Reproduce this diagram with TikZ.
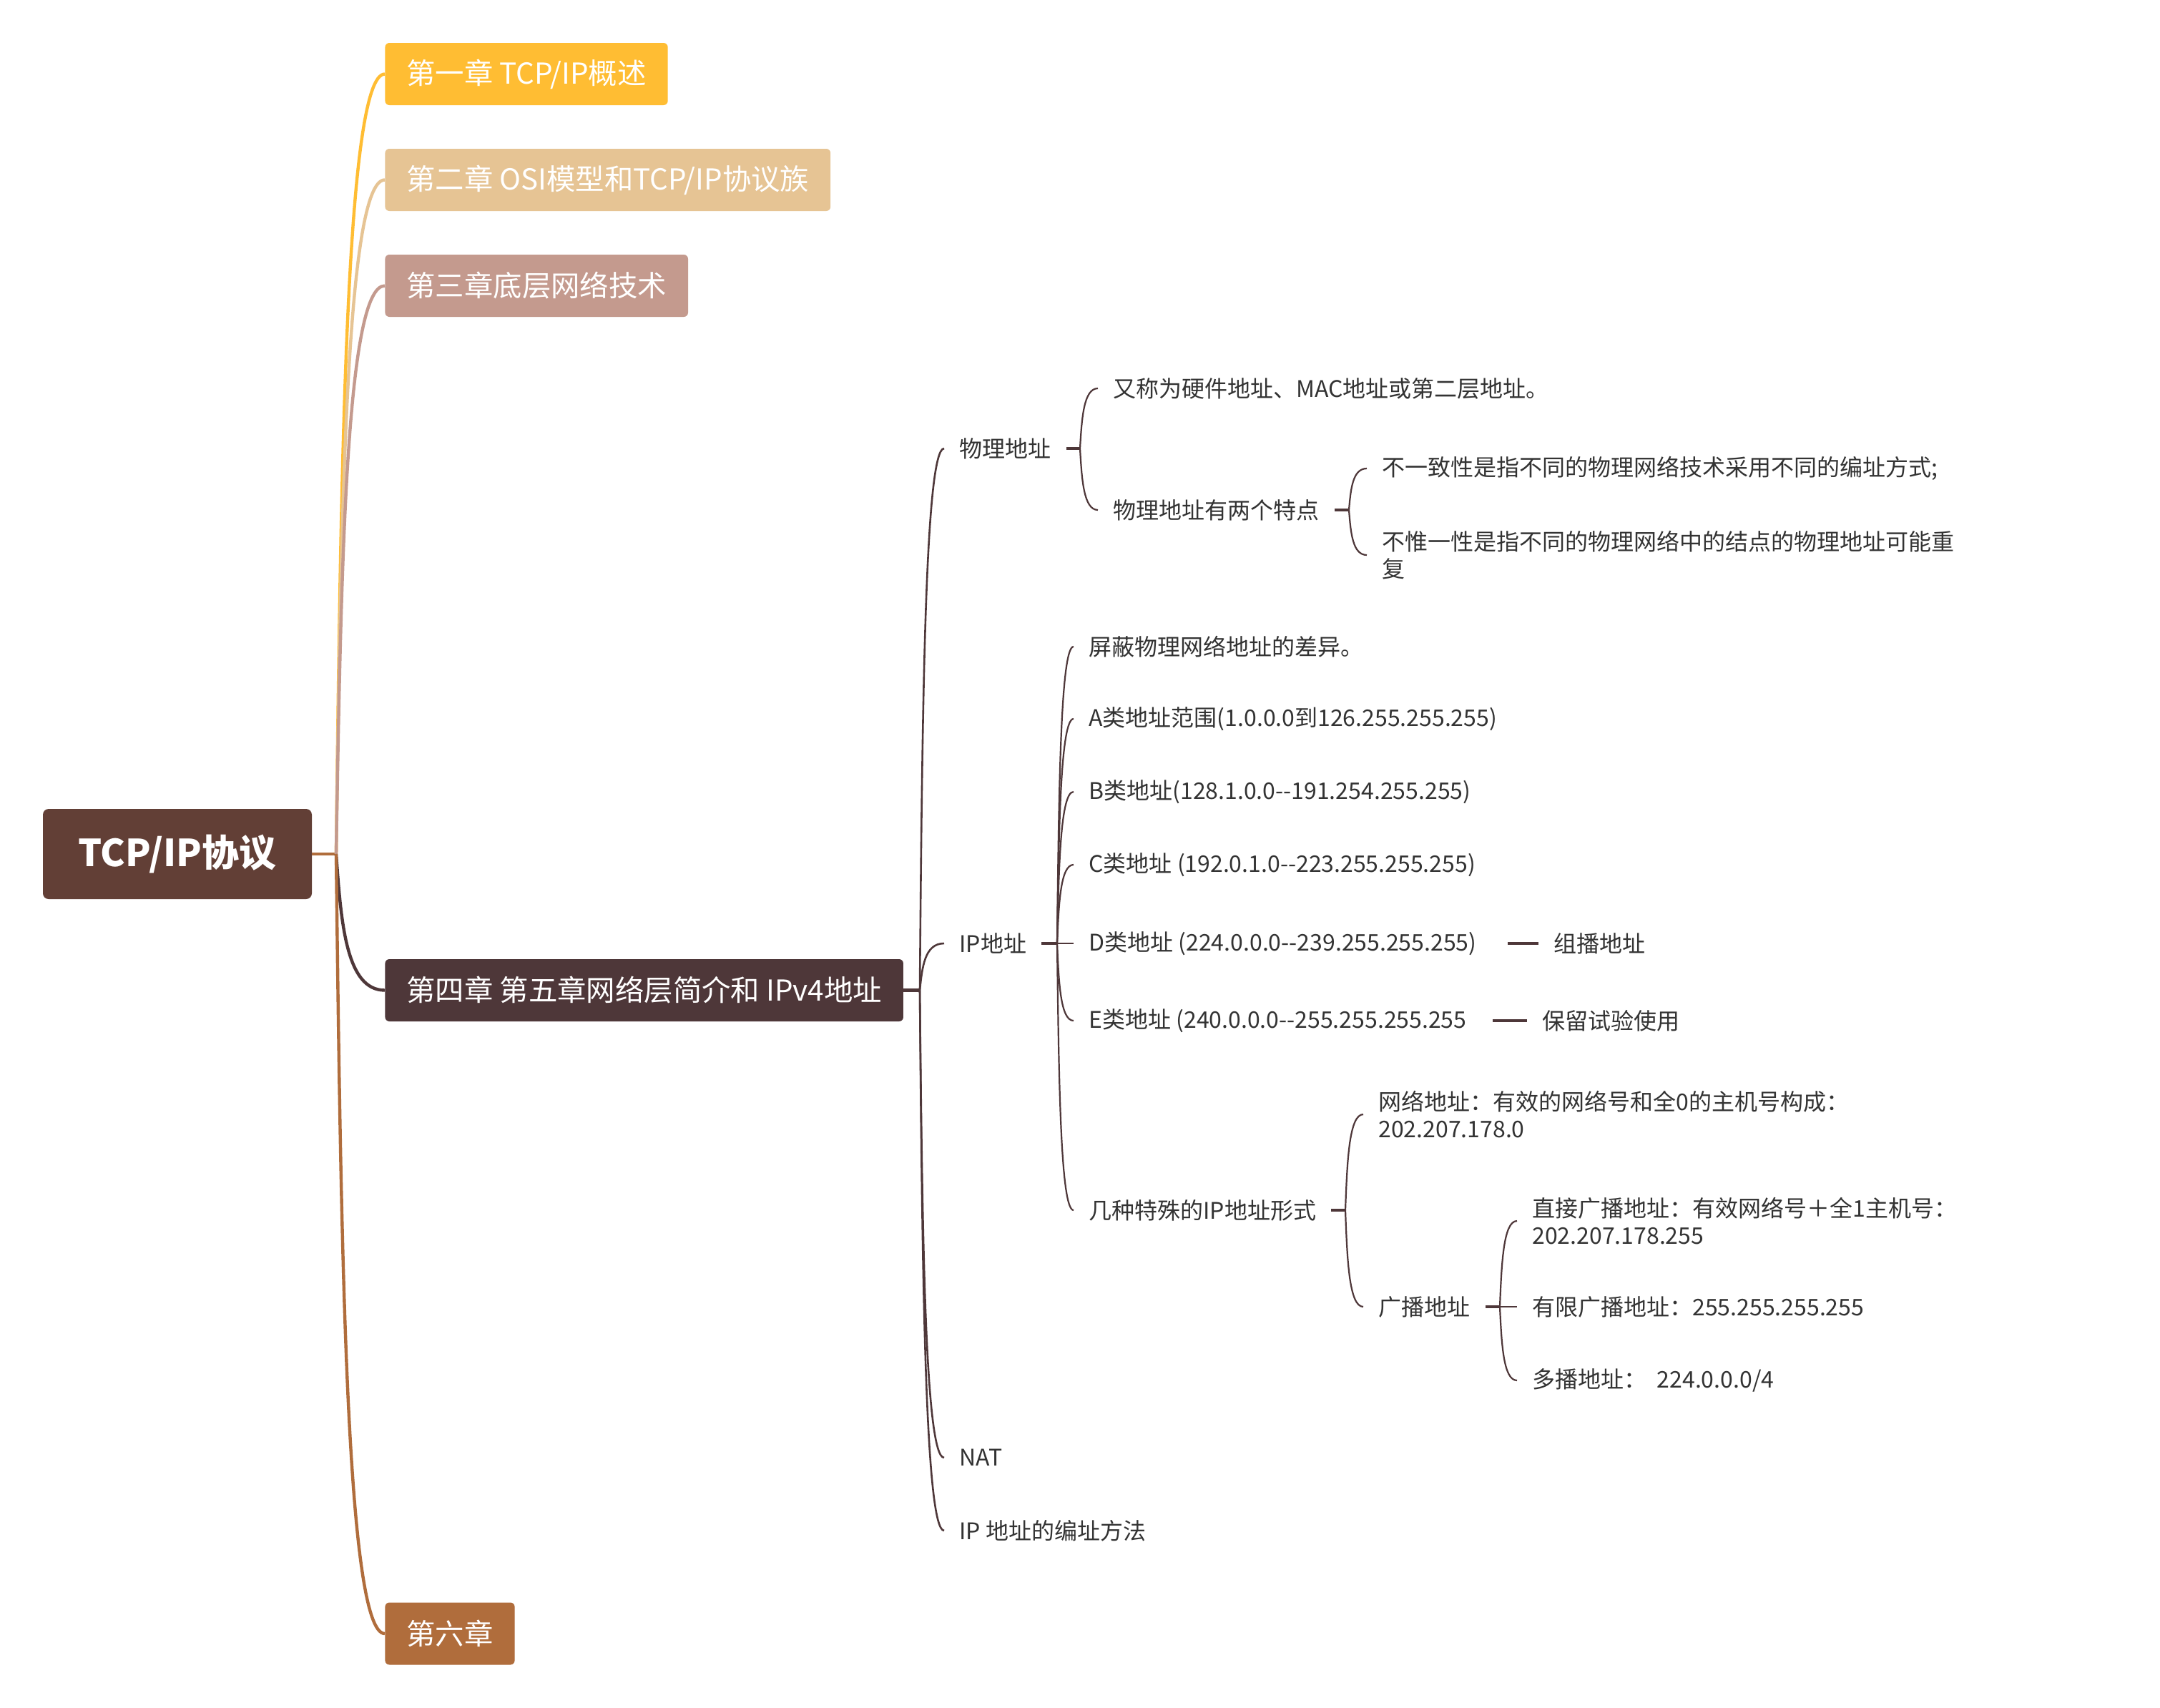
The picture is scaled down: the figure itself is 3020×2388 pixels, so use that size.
\documentclass[tikz,border=0pt]{standalone}
\usepackage{fontspec}
\setmainfont{Noto Sans CJK SC}
\usetikzlibrary{calc}
\definecolor{cRoot}{HTML}{623F36}
\definecolor{cOne}{HTML}{FFBD33}
\definecolor{cTwo}{HTML}{E6C494}
\definecolor{cThree}{HTML}{C49A8E}
\definecolor{cFour}{HTML}{4E3739}
\definecolor{cSix}{HTML}{B06D3C}
\definecolor{cText}{HTML}{333333}
\newcommand{\dd}{-\kern0pt-}
\tikzset{
  mcurve/.style={to path={let \p1=(\tikztostart), \p2=(\tikztotarget) in
     .. controls ({\x1+0.1*(\x2-\x1)},{\y1+0.5*(\y2-\y1)}) and ({\x1+0.2*(\x2-\x1)},{\y2}) .. (\tikztotarget)}},
  rootbox/.style={fill=cRoot, text=white, font=\bfseries\fontsize{26}{30}\selectfont,
     minimum width=188pt, minimum height=63pt, rounded corners=4pt, inner sep=0pt},
  chbox/.style={text=white, font=\fontsize{20.2}{24}\selectfont, inner xsep=15pt, inner ysep=0pt,
     minimum height=43.5pt, rounded corners=3pt, anchor=west},
  tx/.style={text=cText, font=\fontsize{16}{19}\selectfont, inner xsep=10.5pt, inner ysep=2pt,
     anchor=west, align=left},
  lonecurve/.style={line width=2.2pt, mcurve},
  subcurve/.style={draw=cFour, line width=1.1pt, mcurve},
  stubline/.style={draw=cFour, line width=1.8pt},
}
\begin{document}
\begin{tikzpicture}[x=0.5pt, y=-0.5pt]
\useasboundingbox[fill=white] (0,0) rectangle (3020,2388);

% root and chapters
\node[rootbox] (root) at (248,1194) {TCP/IP协议};
\node[chbox, fill=cOne] (ch1) at (538,103.5) {第一章 TCP/IP概述};
\node[chbox, fill=cTwo] (ch2) at (538,251.5) {第二章 OSI模型和TCP/IP协议族};
\node[chbox, fill=cThree] (ch3) at (538,399.5) {第三章底层网络技术};
\node[chbox, fill=cFour] (ch4) at (538,1384.5) {第四章 第五章网络层简介和 IPv4地址};
\node[chbox, fill=cSix] (ch6) at (538,2284) {第六章};

\coordinate (t0) at (470,1194);
\draw[cSix, line width=2.2pt] (root.east) -- (t0);
\draw[lonecurve, cOne] (t0) to (ch1.west);
\draw[lonecurve, cTwo] (t0) to (ch2.west);
\draw[lonecurve, cThree] (t0) to (ch3.west);
\draw[lonecurve, cFour] (t0) to (ch4.west);
\draw[lonecurve, cSix] (t0) to (ch6.west);

% level 2
\node[tx] (pa) at (1320,627) {物理地址};
\node[tx] (ip) at (1320,1319) {IP地址};
\node[tx] (nat) at (1320,2038) {NAT};
\node[tx] (bz) at (1320,2140) {IP 地址的编址方法};
\coordinate (t4) at (1286,1384.5);
\draw[stubline, line width=2.2pt] (ch4.east) -- (t4);
\draw[subcurve, line width=1.3pt] (t4) to (pa.west);
\draw[subcurve, line width=1.3pt] (t4) to (ip.west);
\draw[subcurve, line width=1.3pt] (t4) to (nat.west);
\draw[subcurve, line width=1.3pt] (t4) to (bz.west);

% physical address
\node[tx] (pa1) at (1535,543) {又称为硬件地址、MAC地址或第二层地址。};
\node[tx] (pa2) at (1535,713) {物理地址有两个特点};
\coordinate (tpa) at (1510,627);
\draw[stubline] (pa.east) -- (tpa);
\draw[subcurve] (tpa) to (pa1.west);
\draw[subcurve] (tpa) to (pa2.west);

\node[tx] (pa21) at (1911,655) {不一致性是指不同的物理网络技术采用不同的编址方式;};
\node[tx] (pa22) at (1911,776) {不惟一性是指不同的物理网络中的结点的物理地址可能重\\复};
\coordinate (tpa2) at (1886,713);
\draw[stubline] (pa2.east) -- (tpa2);
\draw[subcurve] (tpa2) to (pa21.west);
\draw[subcurve] (tpa2) to (pa22.west);

% IP address
\node[tx] (ip1) at (1501,904) {屏蔽物理网络地址的差异。};
\node[tx] (ip2) at (1501,1005) {A类地址范围(1.0.0.0到126.255.255.255)};
\node[tx] (ip3) at (1501,1107) {B类地址(128.1.0.0\dd191.254.255.255)};
\node[tx] (ip4) at (1501,1209) {C类地址 (192.0.1.0\dd223.255.255.255)};
\node[tx] (ip5) at (1501,1319) {D类地址 (224.0.0.0\dd239.255.255.255)};
\node[tx] (ip6) at (1501,1427) {E类地址 (240.0.0.0\dd255.255.255.255};
\node[tx] (ip7) at (1501,1692) {几种特殊的IP地址形式};
\node[tx] (ip5a) at (2151,1319) {组播地址};
\node[tx] (ip6a) at (2135,1427) {保留试验使用};
\coordinate (tip) at (1478,1319);
\draw[stubline] (ip.east) -- (tip);
\draw[subcurve] (tip) to (ip1.west);
\draw[subcurve] (tip) to (ip2.west);
\draw[subcurve] (tip) to (ip3.west);
\draw[subcurve] (tip) to (ip4.west);
\draw[subcurve] (tip) to (ip5.west);
\draw[subcurve] (tip) to (ip6.west);
\draw[subcurve] (tip) to (ip7.west);
\draw[stubline, shorten <=11pt] (ip5.east) -- (ip5a.west);
\draw[stubline, shorten <=7.5pt] (ip6.east) -- (ip6a.west);

% special forms
\node[tx] (s1) at (1906,1558) {网络地址：有效的网络号和全0的主机号构成：\\202.207.178.0};
\node[tx] (s2) at (1906,1827) {广播地址};
\coordinate (t7) at (1881,1692);
\draw[stubline] (ip7.east) -- (t7);
\draw[subcurve] (t7) to (s1.west);
\draw[subcurve] (t7) to (s2.west);

\node[tx] (b1) at (2121,1707) {直接广播地址：有效网络号＋全1主机号：\\202.207.178.255};
\node[tx] (b2) at (2121,1827) {有限广播地址：255.255.255.255};
\node[tx] (b3) at (2121,1930) {多播地址：\ \ 224.0.0.0/4};
\coordinate (ts2) at (2097,1827);
\draw[stubline] (s2.east) -- (ts2);
\draw[subcurve] (ts2) to (b1.west);
\draw[subcurve] (ts2) to (b2.west);
\draw[subcurve] (ts2) to (b3.west);
\end{tikzpicture}
\end{document}
